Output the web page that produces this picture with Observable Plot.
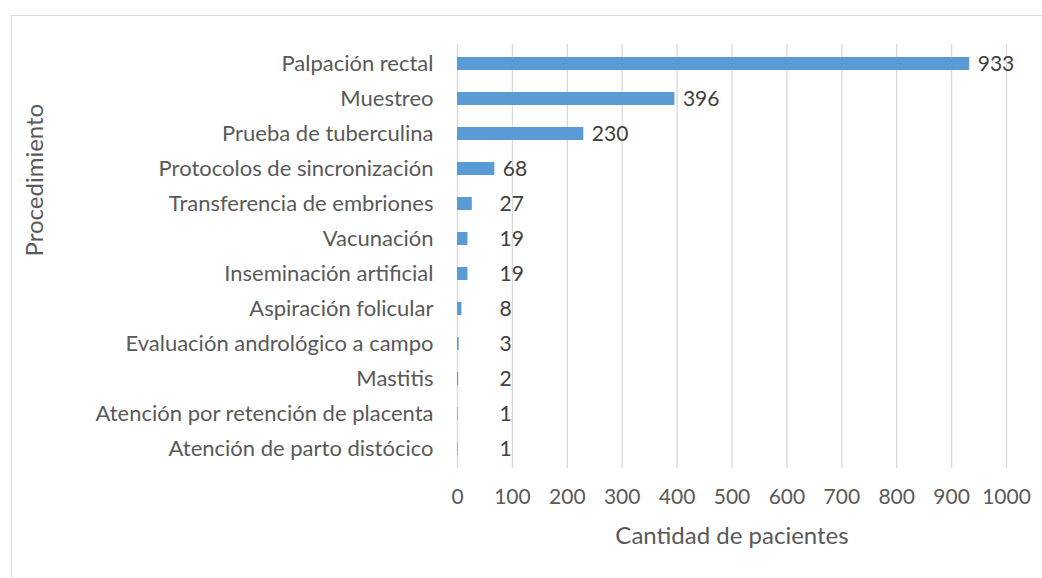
<!DOCTYPE html>
<html>
<head>
<meta charset="utf-8">
<script src="https://cdn.jsdelivr.net/npm/d3@7"></script>
<script src="https://cdn.jsdelivr.net/npm/@observablehq/plot@0.6"></script>
<style>
  html, body { margin: 0; padding: 0; background: #ffffff; }
  #wrap { position: relative; width: 1042px; height: 578px; overflow: hidden; }
  #frame { position: absolute; left: 11px; top: 15px; width: 1100px; height: 700px; border: 1px solid #d9d9d9; box-sizing: border-box; }
  #chart { position: absolute; left: 0; top: 0; }
</style>
</head>
<body>
<div id="wrap"><div id="frame"></div><div id="chart"></div></div>
<script>
const categories = [
  "Palpación rectal",
  "Muestreo",
  "Prueba de tuberculina",
  "Protocolos de sincronización",
  "Transferencia de embriones",
  "Vacunación",
  "Inseminación artificial",
  "Aspiración folicular",
  "Evaluación andrológico a campo",
  "Mastitis",
  "Atención por retención de placenta",
  "Atención de parto distócico"
];
const values = [933, 396, 230, 68, 27, 19, 19, 8, 3, 2, 1, 1];
const xTicks = [0, 100, 200, 300, 400, 500, 600, 700, 800, 900, 1000];
const xTitle = "Cantidad de pacientes";
const yTitle = "Procedimiento";

const data = categories.map((c, i) => ({category: c, value: values[i]}));

const chart = Plot.plot({
  width: 1042,
  height: 578,
  marginLeft: 457,
  marginRight: 36,
  marginTop: 44,
  marginBottom: 110,
  style: {fontFamily: "Lato, 'Open Sans', sans-serif", fontSize: "21px", color: "#595959", background: "transparent"},
  x: {domain: [0, 1000]},
  y: {domain: categories, paddingInner: 0.64, paddingOuter: 0.32},
  marks: [
    Plot.gridX(xTicks, {stroke: "#d9d9d9", strokeOpacity: 1, strokeWidth: 1.3}),
    Plot.barX(data, {x: "value", y: "category", fill: "#5b9bd5"}),
    Plot.text(data, {
      x: d => Math.max(d.value, 62), y: "category", text: d => String(d.value),
      textAnchor: "start", dx: 8, fill: "#404040", fontSize: 21
    }),
    Plot.axisX(xTicks, {tickSize: 0, tickPadding: 21, label: null, tickFormat: d => String(d), fill: "#595959", fontSize: 21}),
    Plot.axisY({tickSize: 0, tickPadding: 24, label: null, fill: "#595959", fontSize: 22}),
    Plot.text([xTitle], {frameAnchor: "bottom", dy: 75, text: d => d, fill: "#595959", fontSize: 24}),
    Plot.text([yTitle], {frameAnchor: "left", dx: -422, rotate: -90, text: d => d, fill: "#595959", fontSize: 24})
  ]
});
document.getElementById("chart").appendChild(chart);
</script>
</body>
</html>
